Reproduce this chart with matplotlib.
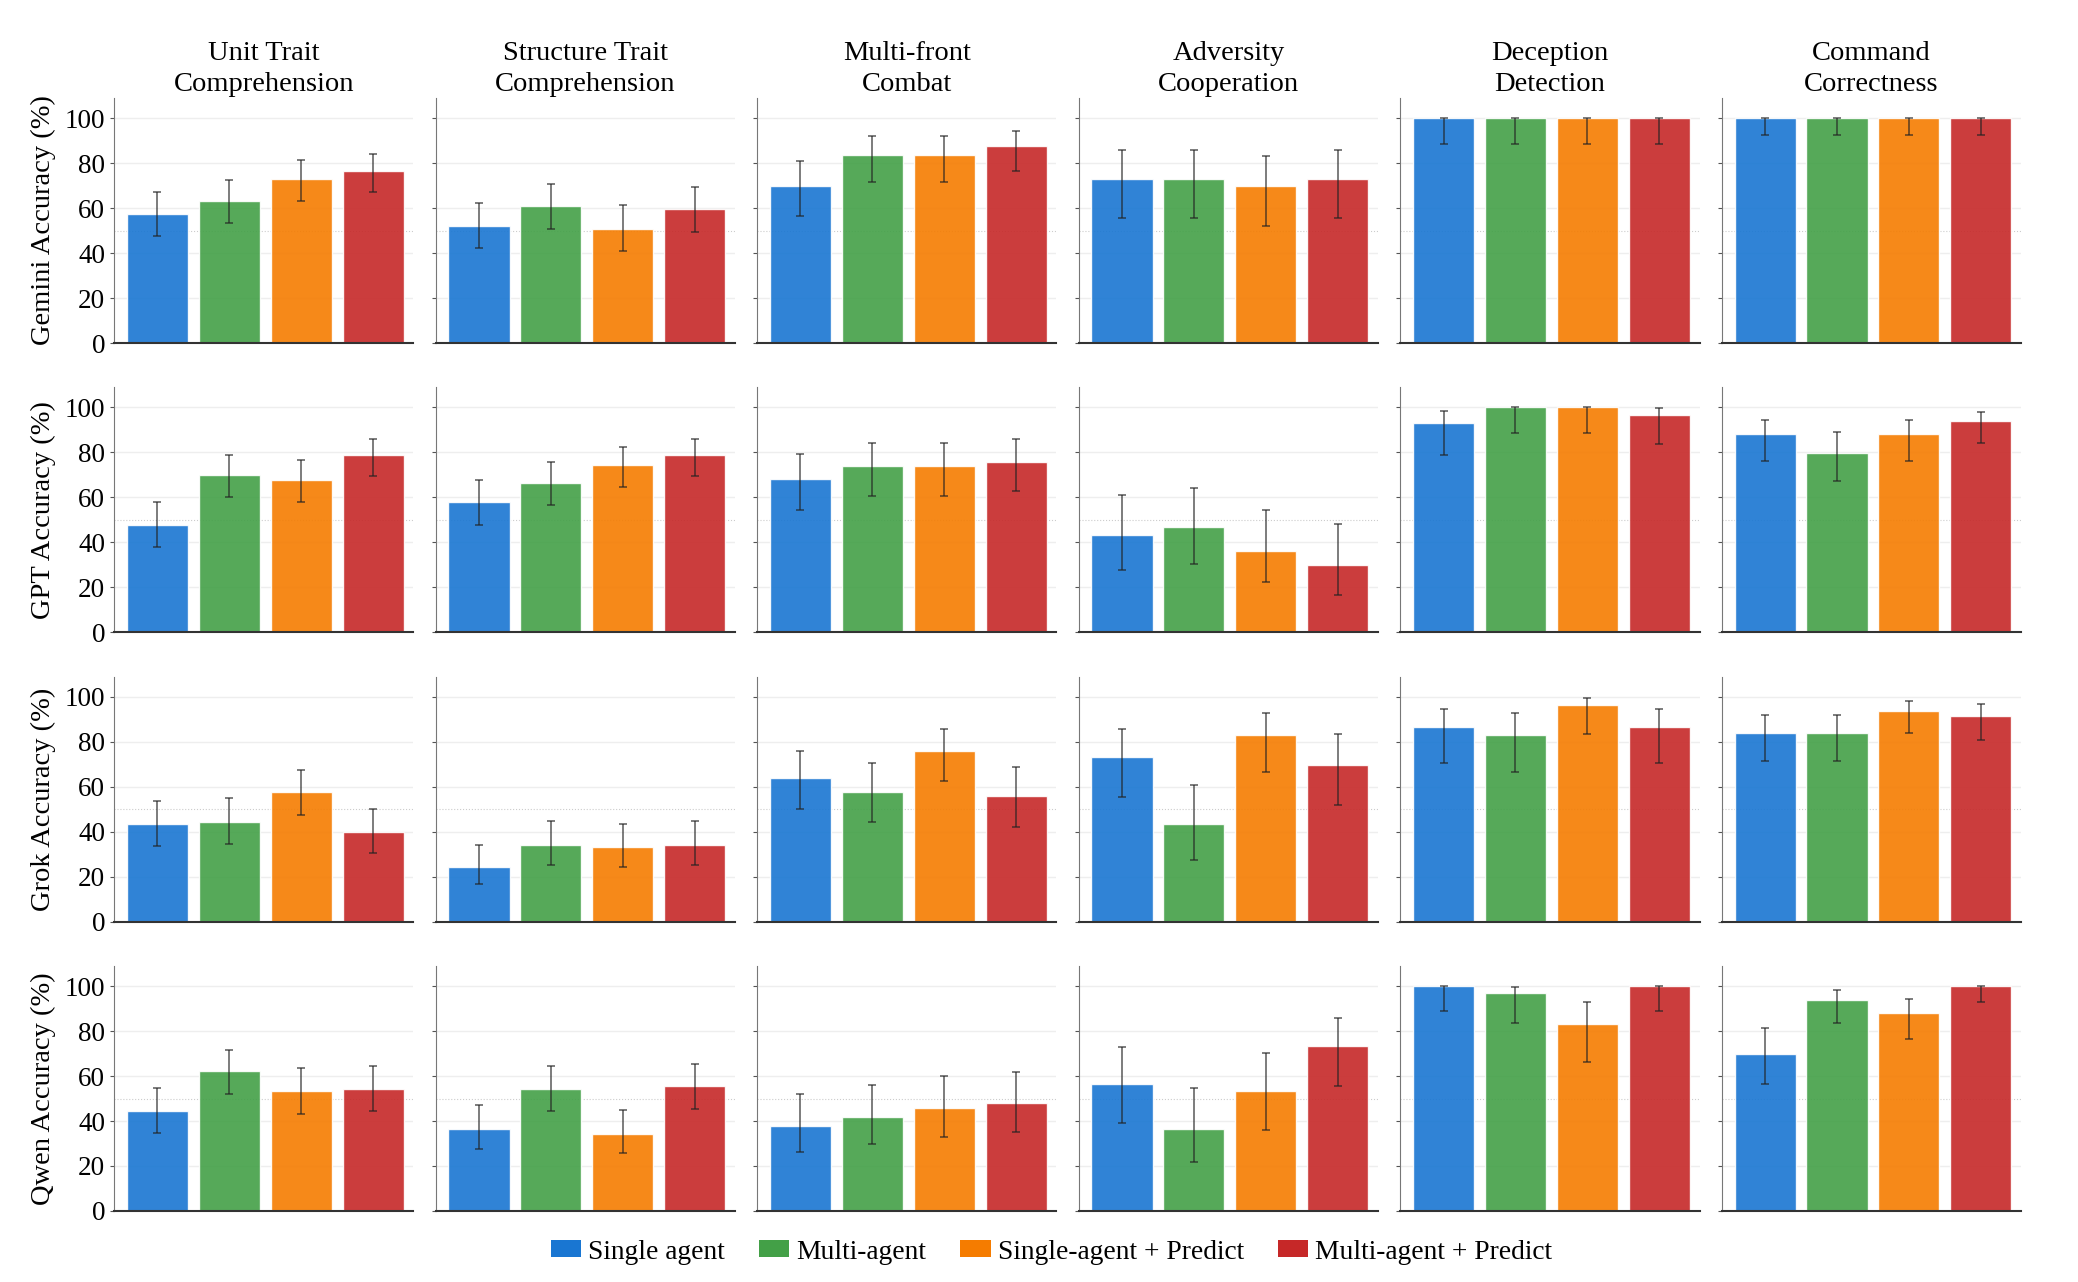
import numpy as np
import matplotlib
matplotlib.use('Agg')
import matplotlib.pyplot as plt
from matplotlib.patches import Patch

plt.rcParams['font.family'] = ['Liberation Serif', 'DejaVu Serif']

# Tasks (columns) and models (rows)
tasks = ['Unit Trait\nComprehension', 'Structure Trait\nComprehension', 'Multi-front\nCombat',
         'Adversity\nCooperation', 'Deception\nDetection', 'Command\nCorrectness']
models = ['Gemini', 'GPT', 'Grok', 'Qwen']
methods = ['Single agent', 'Multi-agent', 'Single-agent + Predict', 'Multi-agent + Predict']
colors = ['#1976D2', '#43A047', '#F57C00', '#C62828']

# accuracy[model][task] -> 4 methods
acc_gemini = [[57.3, 63.3, 73.0, 76.3], [52.0, 60.9, 50.8, 59.7], [69.8, 83.7, 83.7, 87.7],
              [73.0, 73.0, 69.8, 73.0], [100, 100, 100, 100], [100, 100, 100, 100]]
acc_gpt = [[47.7, 69.9, 67.7, 78.8], [57.8, 66.5, 74.4, 78.8], [68.0, 73.8, 73.8, 75.9],
           [43.3, 46.7, 36.4, 29.8], [93.3, 100, 100, 96.6], [88.0, 79.9, 88.0, 93.9]]
acc_grok = [[43.3, 44.1, 57.5, 39.7], [24.1, 34.2, 33.0, 34.2], [63.7, 57.8, 75.9, 55.9],
            [73.2, 43.3, 83.1, 69.8], [86.5, 83.1, 96.4, 86.5], [83.7, 83.7, 93.8, 91.6]]
acc_qwen = [[44.4, 62.1, 53.2, 54.4], [36.6, 54.4, 34.4, 55.6], [37.9, 41.9, 45.9, 48.0],
            [56.6, 36.6, 53.2, 73.2], [100, 96.7, 83.3, 100], [69.9, 93.9, 88.0, 100]]

# confidence interval bounds (lower, upper)
lo_gemini = [[47.4, 53.2, 63.4, 67.0], [42.1, 50.8, 40.9, 49.6], [56.3, 71.6, 71.6, 76.3],
             [55.6, 55.6, 52.0, 55.6], [88.7, 88.7, 88.7, 88.7], [92.7, 92.7, 92.7, 92.7]]
hi_gemini = [[67.4, 72.7, 81.3, 84.1], [62.4, 70.7, 61.2, 69.6], [81.0, 91.9, 91.9, 94.4],
             [85.8, 85.8, 83.4, 85.8], [100, 100, 100, 100], [100, 100, 100, 100]]
lo_gpt = [[37.9, 60.0, 57.8, 69.5], [47.7, 56.6, 64.7, 69.5], [54.4, 60.6, 60.6, 62.8],
          [27.6, 30.2, 22.2, 16.6], [78.8, 88.7, 88.7, 83.6], [76.3, 67.3, 76.3, 84.0]]
hi_gpt = [[58.1, 78.7, 76.7, 86.2], [67.7, 75.6, 82.5, 86.2], [79.3, 84.3, 84.3, 85.8],
          [60.9, 64.0, 54.5, 48.0], [98.4, 100, 100, 99.6], [94.5, 89.0, 94.5, 98.1]]
lo_grok = [[33.5, 34.5, 47.4, 30.5], [16.6, 25.3, 24.3, 25.3], [50.1, 44.1, 62.5, 42.2],
           [55.6, 27.4, 66.4, 52.1], [70.4, 66.4, 83.3, 70.4], [71.4, 71.4, 83.7, 81.0]]
hi_grok = [[53.5, 54.8, 67.4, 50.2], [34.2, 44.6, 43.6, 44.6], [75.9, 70.5, 85.6, 68.9],
           [85.6, 60.7, 92.7, 83.3], [94.5, 92.7, 99.4, 94.5], [91.7, 91.7, 97.9, 96.9]]
lo_qwen = [[34.8, 52.1, 43.3, 44.4], [27.6, 44.4, 25.6, 45.3], [26.1, 29.6, 33.0, 35.1],
           [39.3, 21.9, 36.1, 55.6], [88.7, 83.4, 66.4, 88.7], [56.4, 83.7, 76.3, 92.9]]
hi_qwen = [[54.8, 71.7, 63.6, 64.6], [47.1, 64.6, 44.9, 65.5], [52.0, 56.0, 59.9, 61.6],
           [72.7, 54.7, 70.1, 85.9], [100, 99.6, 92.9, 100], [81.2, 98.1, 94.4, 100]]

accs = [acc_gemini, acc_gpt, acc_grok, acc_qwen]
los = [lo_gemini, lo_gpt, lo_grok, lo_qwen]
his = [hi_gemini, hi_gpt, hi_grok, hi_qwen]

fig, axes = plt.subplots(4, 6, figsize=(20.78, 12.82), dpi=100)
fig.subplots_adjust(left=0.055, right=0.9726, top=0.9236, bottom=0.0554, wspace=0.075, hspace=0.18)

x = np.arange(len(methods))
for r in range(4):
    for c in range(6):
        ax = axes[r, c]
        vals = np.array(accs[r][c])
        lo = np.array(los[r][c])
        hi = np.array(his[r][c])
        yerr = np.vstack([vals - lo, hi - vals])
        ax.bar(x, vals, width=0.85, color=colors, alpha=0.9, edgecolor='white', linewidth=1, zorder=2)
        ax.errorbar(x, vals, yerr=yerr, fmt='none', ecolor='#222222', elinewidth=1.1,
                    capsize=3, capthick=1.1, alpha=0.75, zorder=3)
        ax.axhline(50, color='#cccccc', linestyle=':', linewidth=0.8, zorder=1)
        ax.set_ylim(0, 109)
        ax.set_xlim(-0.6, 3.56)
        ax.set_yticks([0, 20, 40, 60, 80, 100])
        ax.grid(axis='y', color='#eeeeee', linewidth=1, zorder=0)
        ax.set_axisbelow(True)
        ax.set_xticks([])
        ax.spines['top'].set_visible(False)
        ax.spines['right'].set_visible(False)
        ax.spines['left'].set_color('#777777')
        ax.spines['bottom'].set_color('#333333')
        ax.spines['bottom'].set_linewidth(1.5)
        ax.tick_params(axis='y', length=3, color='#555555', labelsize=19.5)
        if c == 0:
            ax.set_ylabel(f'{models[r]} Accuracy (%)', fontsize=20.5, labelpad=6)
        else:
            ax.set_yticklabels([])
        if r == 0:
            ax.set_title(tasks[c], fontsize=20.5, pad=5, linespacing=1.3)

handles = [Patch(facecolor=col, label=m) for col, m in zip(colors, methods)]
fig.legend(handles=handles, loc='center', bbox_to_anchor=(0.506, 0.0234), ncol=4, frameon=False,
           fontsize=19.8, handlelength=1.1, handleheight=0.55, handletextpad=0.25, columnspacing=1.25)

plt.savefig('out.png', dpi=100)
